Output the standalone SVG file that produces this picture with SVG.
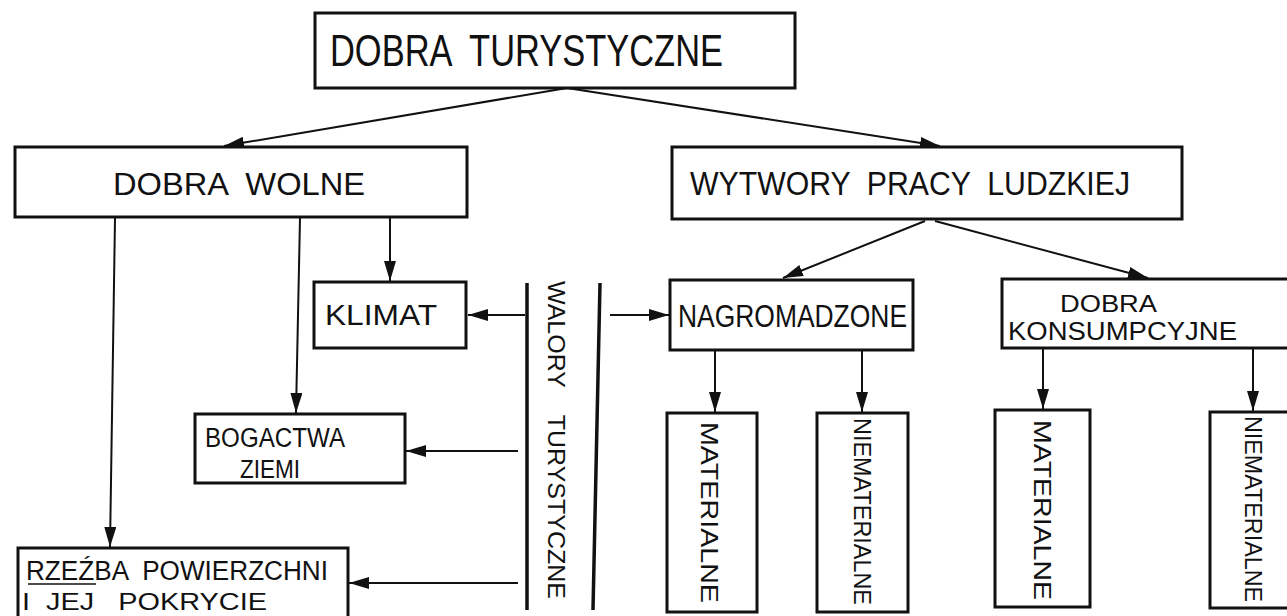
<svg xmlns="http://www.w3.org/2000/svg" width="1287" height="616" viewBox="0 0 1287 616">
<style>
.box{fill:#fff;stroke:#111;stroke-width:3}
.t{font-family:"Liberation Sans",Arial,sans-serif;fill:#111;white-space:pre}
.c{fill:none;stroke:#111;stroke-width:2}
.bar{fill:none;stroke:#111;stroke-width:3.5}
</style>
<defs>
<marker id="ah" markerUnits="userSpaceOnUse" markerWidth="20" markerHeight="12" refX="20" refY="6" orient="auto">
<path d="M0,0 L20,6 L0,12 z" fill="#111"/>
</marker>
</defs>
<rect width="1287" height="616" fill="#fff"/>
<g id="connectors">
<line class="c" x1="567" y1="88" x2="224" y2="146" marker-end="url(#ah)"/>
<line class="c" x1="567" y1="88" x2="940" y2="146" marker-end="url(#ah)"/>
<line class="c" x1="925" y1="221" x2="783" y2="278" marker-end="url(#ah)"/>
<line class="c" x1="935" y1="221" x2="1148" y2="278" marker-end="url(#ah)"/>
<line class="c" x1="390" y1="218" x2="390" y2="281" marker-end="url(#ah)"/>
<line class="c" x1="300" y1="218" x2="296" y2="413" marker-end="url(#ah)"/>
<line class="c" x1="115" y1="218" x2="110" y2="547" marker-end="url(#ah)"/>
<line class="c" x1="525" y1="315" x2="468" y2="315" marker-end="url(#ah)"/>
<line class="c" x1="518" y1="451" x2="406" y2="451" marker-end="url(#ah)"/>
<line class="c" x1="518" y1="583" x2="349" y2="583" marker-end="url(#ah)"/>
<line class="c" x1="610" y1="315" x2="669" y2="315" marker-end="url(#ah)"/>
<line class="c" x1="715" y1="350" x2="715" y2="412" marker-end="url(#ah)"/>
<line class="c" x1="862" y1="350" x2="862" y2="412" marker-end="url(#ah)"/>
<line class="c" x1="1043" y1="348" x2="1043" y2="409" marker-end="url(#ah)"/>
<line class="c" x1="1253" y1="348" x2="1253" y2="411" marker-end="url(#ah)"/>
</g>
<g id="dobra-turystyczne">
<rect class="box" x="315" y="13" width="480" height="75"/>
<text class="t" xml:space="preserve" x="330" y="66" font-size="45" textLength="393" lengthAdjust="spacingAndGlyphs">DOBRA  TURYSTYCZNE</text>
</g>
<g id="dobra-wolne">
<rect class="box" x="15" y="147" width="452" height="70"/>
<text class="t" xml:space="preserve" x="113" y="195" font-size="31" textLength="252" lengthAdjust="spacingAndGlyphs">DOBRA  WOLNE</text>
</g>
<g id="wytwory">
<rect class="box" x="672" y="147" width="510" height="72"/>
<text class="t" xml:space="preserve" x="690" y="195" font-size="34" textLength="440" lengthAdjust="spacingAndGlyphs">WYTWORY  PRACY  LUDZKIEJ</text>
</g>
<g id="klimat">
<rect class="box" x="314" y="282" width="152" height="66"/>
<text class="t" x="325" y="325" font-size="30" textLength="112" lengthAdjust="spacingAndGlyphs">KLIMAT</text>
</g>
<g id="walory">
<line class="bar" x1="527" y1="283" x2="527" y2="610"/>
<line class="bar" x1="600" y1="283" x2="593" y2="610"/>
<text class="t" xml:space="preserve" transform="translate(548,281) rotate(90)" font-size="24.5" textLength="318" lengthAdjust="spacingAndGlyphs">WALORY    TURYSTYCZNE</text>
</g>
<g id="nagromadzone">
<rect class="box" x="670" y="280" width="243" height="70"/>
<text class="t" x="678" y="327" font-size="32" textLength="229" lengthAdjust="spacingAndGlyphs">NAGROMADZONE</text>
</g>
<g id="konsumpcyjne">
<rect class="box" x="1002" y="279" width="300" height="69"/>
<text class="t" x="1060" y="312" font-size="24" textLength="97" lengthAdjust="spacingAndGlyphs">DOBRA</text>
<text class="t" x="1008" y="340" font-size="25" textLength="229" lengthAdjust="spacingAndGlyphs">KONSUMPCYJNE</text>
</g>
<g id="bogactwa">
<rect class="box" x="195" y="414" width="210" height="69"/>
<text class="t" x="205" y="447" font-size="27" textLength="140" lengthAdjust="spacingAndGlyphs">BOGACTWA</text>
<text class="t" x="240" y="478" font-size="25" textLength="60" lengthAdjust="spacingAndGlyphs">ZIEMI</text>
</g>
<g id="rzezba">
<rect class="box" x="18" y="548" width="330" height="90"/>
<text class="t" xml:space="preserve" x="26" y="580" font-size="27" textLength="302" lengthAdjust="spacingAndGlyphs">RZEŹBA  POWIERZCHNI</text>
<line x1="28" y1="584" x2="96" y2="584" stroke="#111" stroke-width="1.5"/>
<text class="t" xml:space="preserve" x="22" y="610" font-size="24" textLength="245" lengthAdjust="spacingAndGlyphs">I  JEJ   POKRYCIE</text>
</g>
<g id="nag-materialne">
<rect class="box" x="667" y="413" width="90" height="199"/>
<text class="t" transform="translate(701,422) rotate(90)" font-size="24" textLength="181" lengthAdjust="spacingAndGlyphs">MATERIALNE</text>
</g>
<g id="nag-niematerialne">
<rect class="box" x="817" y="413" width="91" height="199"/>
<text class="t" transform="translate(854,418) rotate(90)" font-size="24" textLength="187" lengthAdjust="spacingAndGlyphs">NIEMATERIALNE</text>
</g>
<g id="kons-materialne">
<rect class="box" x="995" y="410" width="95" height="197"/>
<text class="t" transform="translate(1034,420) rotate(90)" font-size="24" textLength="180" lengthAdjust="spacingAndGlyphs">MATERIALNE</text>
</g>
<g id="kons-niematerialne">
<rect class="box" x="1210" y="412" width="90" height="196"/>
<text class="t" transform="translate(1245,416) rotate(90)" font-size="24" textLength="186" lengthAdjust="spacingAndGlyphs">NIEMATERIALNE</text>
</g>
</svg>
